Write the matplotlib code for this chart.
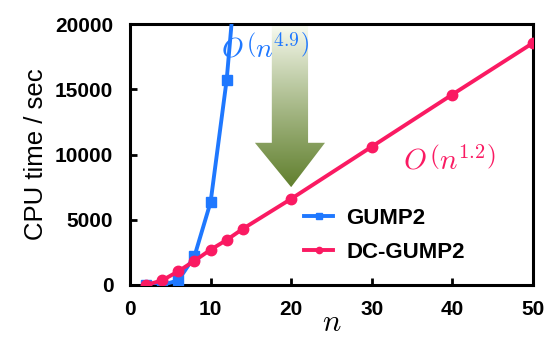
import numpy as np
import matplotlib.pyplot as plt
from matplotlib.patches import Polygon

plt.rcParams['font.family'] = ['Liberation Sans', 'DejaVu Sans']
plt.rcParams['mathtext.fontset'] = 'cm'

# GUMP2 (blue squares); last point is beyond the top of the axes
n_gump = [2, 4, 6, 8, 10, 12, 14]
t_gump = [0, 0, 350, 2200, 6350, 15750, 30000]

# DC-GUMP2 (pink circles)
n_dc = [2, 4, 6, 8, 10, 12, 14, 20, 30, 40, 50]
t_dc = [0, 350, 1050, 1850, 2700, 3450, 4300, 6600, 10600, 14600, 18550]

blue = '#1f78ff'
pink = '#fa1a62'

fig = plt.figure(figsize=(5.51, 3.40), dpi=100)
ax = fig.add_axes([0.236, 0.162, 0.731, 0.767])

# green gradient arrow
arrow = Polygon([(17.6, 19900), (22.1, 19900), (22.1, 10900), (24.2, 10900),
                 (20.0, 7500), (15.5, 10900), (17.6, 10900)],
                closed=True, facecolor='none', edgecolor='none')
ax.add_patch(arrow)
grad = np.linspace(0, 1, 256).reshape(-1, 1)
top = np.array([0.98, 0.99, 0.95])
bot = np.array([0.38, 0.50, 0.18])
img = top + (bot - top) * grad[:, :, None] ** 0.9
im = ax.imshow(img, extent=[15.5, 24.2, 7500, 19900], aspect='auto',
               origin='upper', zorder=1)
im.set_clip_path(arrow)

ax.plot(n_gump, t_gump, color=blue, lw=2.8, marker='s', ms=7,
        label='GUMP2', zorder=3)
ax.plot(n_dc, t_dc, color=pink, lw=2.8, marker='o', ms=7.5,
        label='DC-GUMP2', zorder=4)

ax.text(16.8, 18150, r'$O\,\left(n^{4.9}\right)$', color=blue, fontsize=20,
        ha='center', va='center', zorder=5)
ax.text(39.6, 9500, r'$O\,\left(n^{1.2}\right)$', color=pink, fontsize=21,
        ha='center', va='center', zorder=5)

ax.set_xlim(0, 50)
ax.set_ylim(0, 20000)
ax.set_xticks([0, 10, 20, 30, 40, 50])
ax.set_yticks([0, 5000, 10000, 15000, 20000])
ax.tick_params(direction='in', length=5, width=2, labelsize=15)
ax.tick_params(axis='y', pad=12)
ax.tick_params(axis='x', pad=11)
for lab in ax.get_xticklabels() + ax.get_yticklabels():
    lab.set_fontweight('bold')
for sp in ax.spines.values():
    sp.set_linewidth(2.2)

ax.set_ylabel('CPU time / sec', fontsize=18.5, labelpad=5)
ax.set_xlabel(r'$n$', fontsize=22, labelpad=-8)

ax.legend(loc='lower left', bbox_to_anchor=(0.41, 0.05), frameon=False,
          prop={'size': 16, 'weight': 'bold'}, handlelength=1.3,
          handletextpad=0.6, labelspacing=0.6, borderaxespad=0,
          markerscale=0.6)

fig.savefig('out.png', dpi=100)
